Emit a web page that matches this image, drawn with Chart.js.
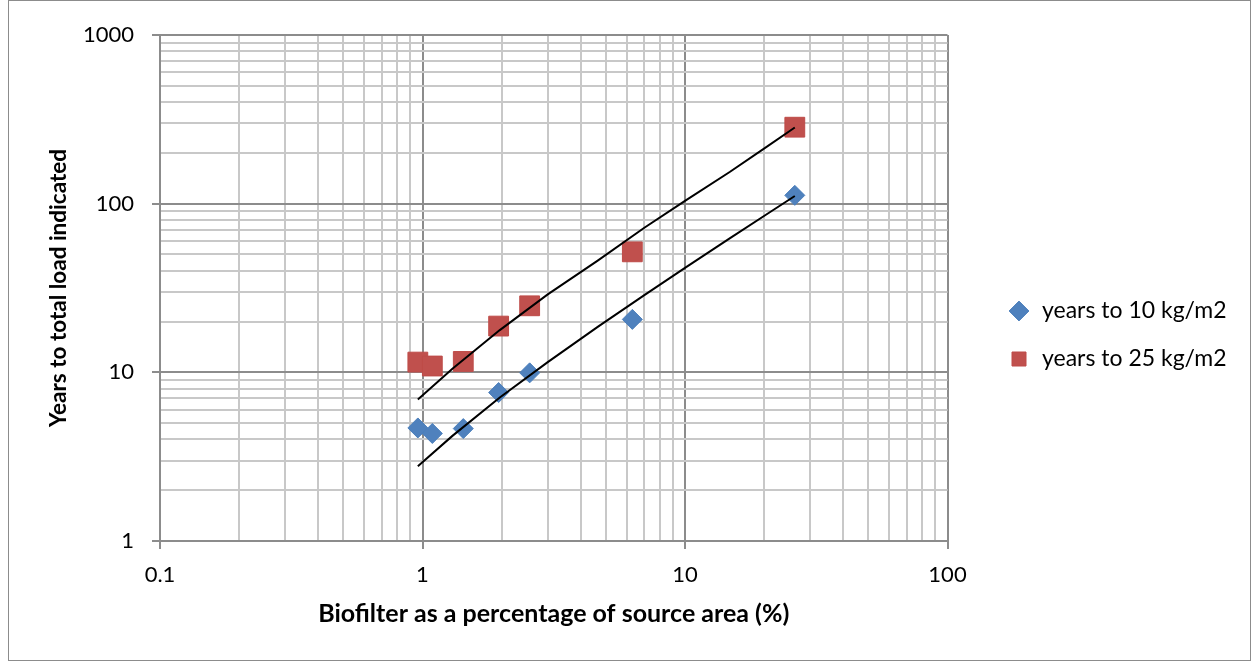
<!DOCTYPE html>
<html>
<head>
<meta charset="utf-8">
<script src="https://cdn.jsdelivr.net/npm/chart.js@4.4.1/dist/chart.umd.min.js"></script>
<style>
  html, body { margin: 0; padding: 0; background: #fff; }
  #wrap { position: relative; width: 1257px; height: 662px; }
  #frame { position: absolute; left: 8px; top: 0; width: 1241px; height: 659px; border: 1px solid #8c8c8c; pointer-events: none; }
</style>
</head>
<body>
<div id="wrap">
  <canvas id="chart" width="1257" height="662"></canvas>
  <div id="frame"></div>
</div>
<script>
// measured points (biofilter % of source area vs years)
const pctArea   = [0.96, 1.09, 1.43, 1.95, 2.56, 6.3, 26.2];
const yearsTo10 = [4.68, 4.34, 4.64, 7.59, 9.93, 20.6, 112];
const yearsTo25 = [11.5, 10.9, 11.6, 18.8, 24.8, 51.8, 284];

// trendlines
const trendX   = [0.96, 1.3, 1.97, 3, 4.65, 7, 10, 14.8, 20, 26.2];
const trend10  = [2.77, 4.2, 7.1, 11.5, 18.6, 28.7, 41.6, 62.2, 84.5, 111];
const trend25  = [6.9, 10.5, 17.8, 29, 46, 72, 104, 154, 212, 283];

const seriesNames = ['years to 10 kg/m2', 'years to 25 kg/m2'];

// axis ticks (gridlines) and labelled ticks
const xTicks = [0.1,0.2,0.3,0.4,0.5,0.6,0.7,0.8,0.9,1,2,3,4,5,6,7,8,9,10,20,30,40,50,60,70,80,90,100];
const xLabelValues = [0.1, 1, 10, 100];
const xLabels = ['0.1', '1', '10', '100'];
const yTicks = [1,2,3,4,5,6,7,8,9,10,20,30,40,50,60,70,80,90,100,200,300,400,500,600,700,800,900,1000];
const yLabelValues = [1, 10, 100, 1000];
const yLabels = ['1', '10', '100', '1000'];

const FONT = 'Lato, "Open Sans", sans-serif';
const majorGrid = '#8c8c8c', minorGrid = '#c8c8c8';

// legend sizing: legend left edge sits 35px right of the plot
const LEG_SIZE = 23, LEG_PAD = 25, LEG_BOX = 14, LEG_LEFT = 983, GAP = 35;
const meas = document.createElement('canvas').getContext('2d');
meas.font = LEG_SIZE + 'px ' + FONT;
const legTextW = Math.max(...seriesNames.map(s => meas.measureText(s).width));
const legendW = LEG_PAD + LEG_BOX + LEG_SIZE / 2 + legTextW + 10;
const padRight = 1257 - LEG_LEFT - legendW;

function isMajor(v) {
  const l = Math.log10(v);
  return Math.abs(l - Math.round(l)) < 1e-9;
}
function pts(xs, ys) { return xs.map((x, i) => ({x: x, y: ys[i]})); }
function gridColor(c) { return c.tick && isMajor(c.tick.value) ? majorGrid : minorGrid; }
function tickMarkColor(c) { return c.tick && isMajor(c.tick.value) ? majorGrid : 'rgba(0,0,0,0)'; }

const ctx = document.getElementById('chart').getContext('2d');
new Chart(ctx, {
  type: 'scatter',
  data: {
    datasets: [
      { label: seriesNames[0], data: pts(pctArea, yearsTo10), pointStyle: 'rectRot', pointRadius: 10, pointHoverRadius: 10,
        backgroundColor: '#4f81bd', borderColor: '#4a7ebb', borderWidth: 1, order: 1 },
      { label: seriesNames[1], data: pts(pctArea, yearsTo25), pointStyle: 'rect', pointRadius: 14, pointHoverRadius: 14,
        backgroundColor: '#c0504d', borderColor: '#be4b48', borderWidth: 1, order: 1 },
      { label: 'trend10', data: pts(trendX, trend10), showLine: true, pointRadius: 0, borderColor: '#000', borderWidth: 2, order: 0 },
      { label: 'trend25', data: pts(trendX, trend25), showLine: true, pointRadius: 0, borderColor: '#000', borderWidth: 2, order: 0 }
    ]
  },
  options: {
    responsive: false,
    animation: false,
    layout: { padding: { top: 8, right: padRight, bottom: 0, left: 0 } },
    plugins: {
      title: { display: true, text: '', padding: { top: 15, bottom: 0 }, font: { size: 10 } },
      tooltip: { enabled: false },
      legend: {
        position: 'right',
        maxWidth: legendW + 0.5,
        labels: {
          usePointStyle: true,
          boxHeight: LEG_BOX,
          padding: LEG_PAD,
          color: '#000',
          font: { family: FONT, size: LEG_SIZE },
          filter: item => item.datasetIndex < 2
        }
      }
    },
    scales: {
      x: {
        type: 'logarithmic', min: 0.1, max: 100,
        afterBuildTicks: s => { s.ticks = xTicks.map(v => ({value: v})); },
        afterFit: s => { s.height = 121; },
        grid: { color: gridColor, lineWidth: 2, tickLength: 8, tickColor: tickMarkColor, tickWidth: 2 },
        border: { color: majorGrid, width: 2 },
        ticks: {
          autoSkip: false, maxRotation: 0, padding: 13, color: '#000',
          font: { family: FONT, size: 22 },
          callback: v => { const i = xLabelValues.indexOf(v); return i >= 0 ? xLabels[i] : ''; }
        },
        title: { display: true, text: 'Biofilter as a percentage of source area (%)', color: '#000',
          font: { family: FONT, size: 25, weight: 'bold' }, padding: { top: 0, bottom: 33 } }
      },
      y: {
        type: 'logarithmic', min: 1, max: 1000, position: 'left',
        afterBuildTicks: s => { s.ticks = yTicks.map(v => ({value: v})); },
        afterFit: s => { s.width = 160; },
        grid: { color: gridColor, lineWidth: 2, tickLength: 8, tickColor: tickMarkColor, tickWidth: 2 },
        border: { color: majorGrid, width: 2 },
        ticks: {
          autoSkip: false, padding: 18, color: '#000',
          font: { family: FONT, size: 22 },
          callback: v => { const i = yLabelValues.indexOf(v); return i >= 0 ? yLabels[i] : ''; }
        },
        title: { display: true, text: 'Years to total load indicated', color: '#000',
          font: { family: FONT, size: 22.5, weight: 'bold' }, padding: { top: 45, bottom: 0 } }
      },
      gap: {
        type: 'linear', position: 'right', display: true,
        afterFit: s => { s.width = GAP; },
        grid: { display: false, drawTicks: false },
        border: { display: false },
        ticks: { display: false }
      }
    }
  }
});
</script>
</body>
</html>
